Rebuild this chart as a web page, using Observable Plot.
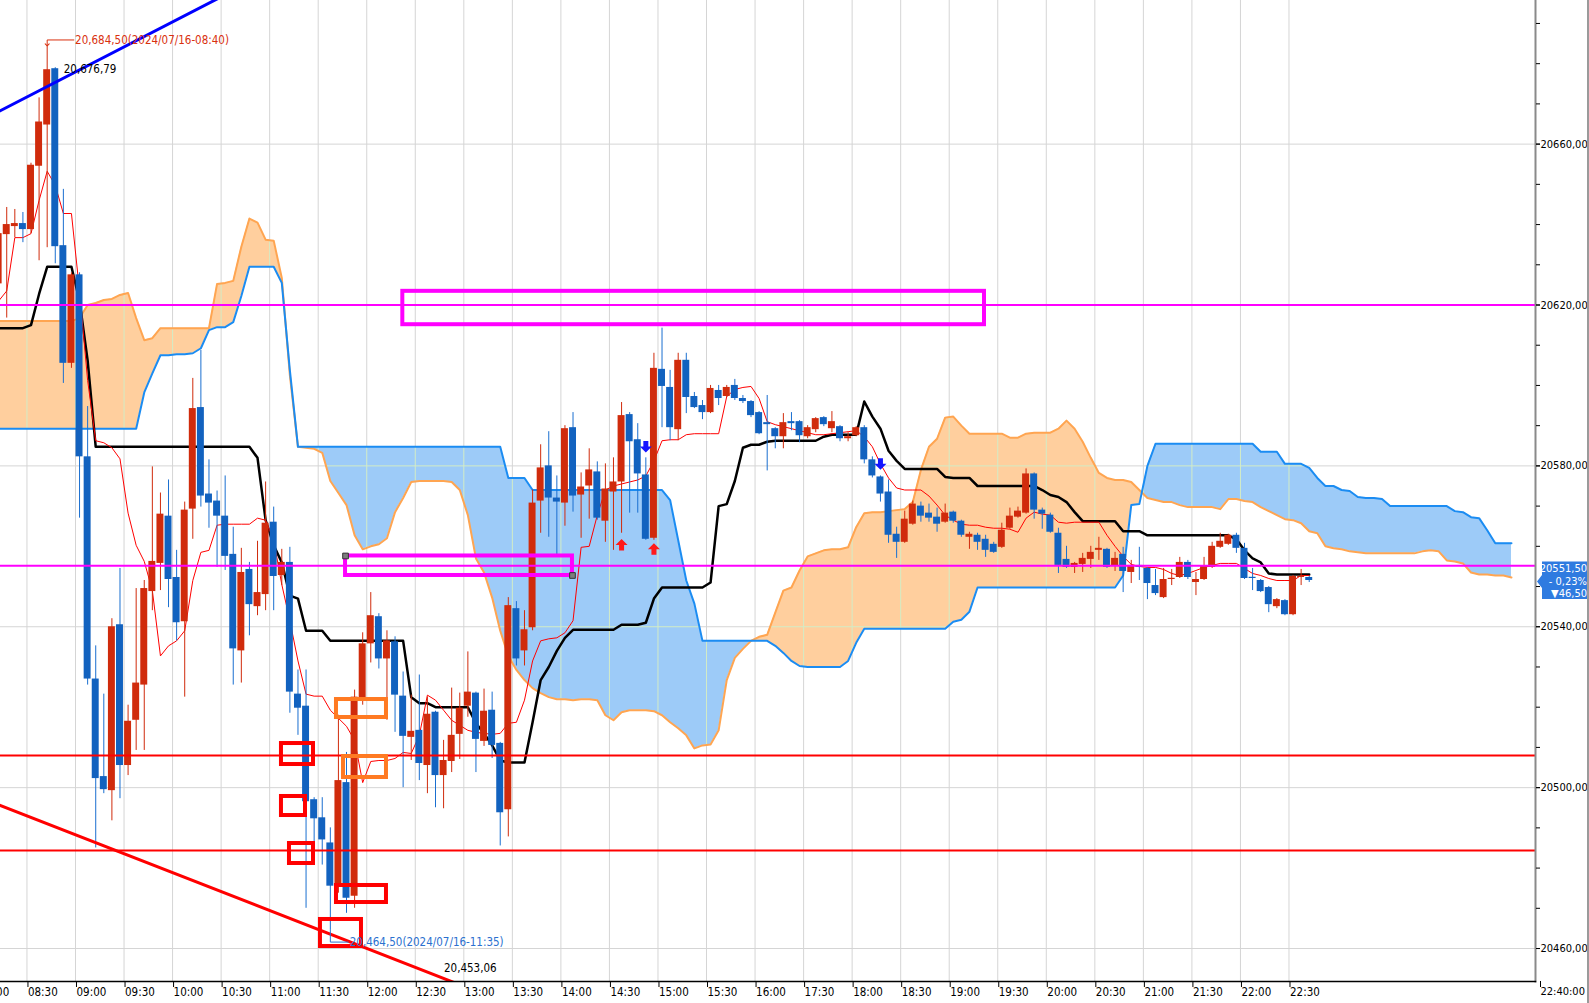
<!DOCTYPE html>
<html><head><meta charset="utf-8">
<script src="https://cdn.jsdelivr.net/npm/d3@7"></script>
<script src="https://cdn.jsdelivr.net/npm/@observablehq/plot@0.6"></script>
<style>html,body{margin:0;padding:0;background:#fff;overflow:hidden}#chart{position:relative;width:1589px;height:1003px}</style>
</head><body><div id="chart"></div>
<script>
// ---------- DATA (5-minute bars; bar index 0 = 08:30, first bar = -4) ----------
const firstBar = -4;
const opens = [
20625.25,20637.5,20639.5,20640.25, // -4..-1
20638.75,20654.5,20664.75,20678.75,20634.75,20605.5,20627.5,20582.25,20527.0,20502.75, // 0-9
20499.25,20540.5,20505.5,20516.75,20525.5,20548.75,20555.75,20567.5,20552.25,20541.25, // 10-19
20569.25,20594.5,20573.0,20571.25,20567.5,20558.0,20534.0,20554.25,20545.0,20548.0, // 20-29
20566.0,20552.75,20556.0,20523.25,20520.25,20497.0,20492.5,20486.25,20475.5,20501.25, // 30-39
20473.0,20522.25,20535.75,20542.5,20532.0,20536.25,20522.75,20512.5,20514.25,20505.5, // 40-49
20518.75,20503.0,20506.5,20513.25,20520.25,20523.5,20511.5,20519.25,20511.0,20494.5, // 50-59
20544.5,20534.0,20539.75,20571.25,20580.0,20572.0,20570.75,20589.5,20572.75,20575.0, // 60-69
20578.5,20566.25,20573.5,20576.0,20592.75,20586.5,20577.75,20562.0,20604.0,20599.5, // 70-79
20589.0,20606.25,20597.25,20595.0,20593.25,20598.75,20597.25,20600.0,20596.75,20596.0, // 80-89
20593.25,20590.75,20589.25,20587.25,20591.0,20591.0,20587.25,20589.0,20592.0,20589.25, // 90-99
20589.75,20586.75,20587.5,20589.5,20581.5,20577.25,20573.5,20563.0,20561.0,20565.5, // 100-109
20570.0,20568.25,20567.25,20566.0,20568.5,20566.25,20562.25,20562.75,20561.75,20560.5, // 110-119
20559.75,20564.5,20567.25,20568.25,20578.0,20569.0,20567.75,20563.25,20556.75,20554.75, // 120-129
20555.5,20556.75,20559.0,20559.25,20555.0,20558.0,20553.5,20555.25,20554.5,20550.25, // 130-139
20547.25,20551.75,20552.25,20556.0,20551.0,20551.75,20554.75,20559.75,20560.5,20562.75, // 140-149
20559.5,20552.0,20551.5,20549.75,20545.0,20546.5,20543.0,20552.25,20552.25 // 150-158
];
const highs = [
20639.75,20644.25,20643.75,20643.0,
20655.25,20671.5,20684.5,20679.0,20648.75,20628.0,20628.0,20594.75,20535.25,20523.25,
20542.0,20554.5,20520.5,20549.5,20551.5,20579.75,20573.25,20576.5,20559.0,20571.0,
20601.75,20608.75,20581.5,20573.75,20577.5,20564.75,20559.5,20556.0,20561.25,20576.0,
20569.75,20559.25,20559.75,20529.25,20529.25,20497.5,20497.5,20490.0,20518.0,20508.75,
20524.25,20538.5,20548.5,20543.25,20539.0,20537.5,20528.75,20523.0,20528.0,20522.5,
20519.0,20511.75,20524.75,20523.5,20533.75,20523.75,20524.5,20523.75,20511.25,20547.25,
20546.25,20544.0,20574.0,20585.25,20588.5,20577.5,20590.0,20593.25,20578.25,20584.25,
20581.0,20580.5,20582.0,20595.75,20593.25,20590.5,20582.0,20608.0,20614.25,20603.75,
20608.0,20608.0,20598.25,20596.25,20600.0,20600.0,20600.0,20601.5,20597.5,20596.25,
20593.5,20597.5,20589.5,20593.0,20593.25,20591.25,20590.0,20592.0,20592.25,20593.5,
20590.0,20588.25,20589.75,20590.0,20582.25,20577.5,20576.5,20564.75,20568.75,20571.25,
20571.0,20570.5,20569.5,20570.5,20568.75,20566.5,20563.5,20563.25,20562.75,20561.0,
20565.75,20569.5,20569.75,20579.25,20578.25,20569.5,20568.25,20564.5,20560.0,20556.0,
20558.25,20560.0,20562.25,20559.5,20558.5,20559.75,20556.5,20559.75,20554.75,20554.25,
20554.5,20554.25,20557.25,20556.5,20553.5,20557.25,20561.0,20563.25,20563.0,20563.25,
20560.75,20554.5,20551.75,20550.0,20547.0,20546.75,20552.75,20554.25,20552.5
];
const lows = [
20621.0,20616.75,20636.75,20635.5,
20637.75,20631.0,20634.25,20630.25,20600.5,20604.25,20567.0,20525.5,20485.0,20498.5,
20491.75,20497.25,20503.0,20509.25,20509.25,20544.0,20549.0,20544.75,20536.5,20522.5,
20561.75,20569.75,20564.5,20554.75,20554.0,20525.5,20526.0,20537.75,20542.75,20544.0,
20544.0,20550.25,20518.5,20513.0,20470.0,20480.75,20480.75,20464.5,20473.75,20468.75,
20470.0,20520.5,20531.0,20529.5,20516.75,20513.75,20500.0,20506.75,20501.75,20498.5,
20495.0,20494.75,20503.75,20507.0,20517.5,20503.75,20510.25,20507.25,20485.5,20487.75,
20530.25,20530.25,20539.0,20563.25,20562.25,20557.75,20565.0,20568.5,20562.0,20566.75,
20566.5,20561.0,20559.0,20563.25,20568.25,20568.25,20561.5,20561.5,20589.5,20586.25,
20586.25,20593.0,20594.25,20591.5,20593.0,20595.0,20597.0,20596.25,20595.5,20592.0,
20587.75,20578.75,20584.25,20584.25,20588.75,20585.75,20586.75,20588.25,20589.75,20588.25,
20586.0,20586.0,20587.25,20580.5,20577.0,20571.0,20560.75,20557.0,20560.75,20565.25,
20566.0,20566.0,20563.5,20565.75,20565.75,20562.25,20559.25,20559.0,20557.25,20558.25,
20559.5,20564.25,20567.0,20568.0,20566.75,20564.25,20563.25,20553.25,20554.5,20553.25,
20553.5,20554.5,20556.5,20554.5,20553.75,20548.5,20550.75,20551.5,20546.75,20547.75,
20547.0,20550.25,20552.0,20551.75,20547.75,20551.5,20554.5,20559.5,20560.25,20558.25,
20551.75,20549.0,20548.5,20543.5,20544.5,20542.75,20542.75,20550.25,20551.0
];
const closes = [
20637.75,20640.0,20640.25,20638.75,
20654.75,20665.5,20678.5,20634.5,20605.5,20627.5,20582.25,20527.0,20502.25,20499.5,
20540.0,20505.5,20516.5,20526.0,20549.5,20556.25,20568.0,20551.75,20541.0,20569.0,
20594.25,20572.5,20570.75,20567.5,20557.5,20534.5,20553.5,20545.5,20548.5,20565.75,
20552.5,20556.0,20523.75,20519.75,20496.5,20492.25,20487.0,20475.5,20501.75,20472.5,
20522.5,20535.75,20542.75,20532.0,20536.5,20523.0,20512.75,20514.0,20506.0,20518.25,
20503.0,20506.75,20513.0,20519.75,20523.75,20512.0,20519.0,20510.5,20493.75,20545.25,
20532.0,20539.25,20570.75,20579.5,20572.0,20571.0,20589.25,20572.5,20574.75,20579.0,
20567.0,20574.25,20576.0,20592.5,20586.0,20578.0,20561.75,20604.25,20599.75,20589.5,
20606.25,20597.0,20594.5,20593.25,20599.25,20596.75,20599.5,20596.75,20596.0,20592.5,
20588.0,20590.25,20587.25,20590.75,20590.5,20587.5,20589.5,20591.75,20590.25,20591.0,
20586.75,20587.25,20589.5,20581.5,20577.5,20573.0,20562.75,20561.0,20566.75,20570.5,
20567.5,20567.0,20565.5,20568.25,20566.25,20562.75,20563.0,20561.0,20559.0,20558.5,
20564.0,20567.5,20568.75,20578.0,20569.0,20568.0,20563.5,20555.25,20554.75,20555.75,
20557.0,20558.5,20559.5,20554.75,20557.0,20553.75,20555.25,20554.75,20550.75,20548.25,
20551.75,20552.0,20556.0,20552.25,20551.75,20555.0,20560.0,20561.25,20562.75,20559.5,
20552.0,20551.75,20548.75,20545.5,20546.75,20543.0,20552.5,20552.5,20551.5
];
// Conversion line (red) and base line (black), bars -4..158
const tenkan = [
20621.0,20623.5,20636.75,20636.75,
20637.75,20646.0,20653.25,20649.75,20642.75,20642.75,20623.5,20601.25,20586.25,20585.75,
20584.5,20581.75,20568.25,20560.25,20556.25,20549.0,20532.75,20535.25,20536.5,20539.0,
20551.5,20558.5,20559.0,20565.25,20565.5,20565.5,20565.5,20565.5,20567.0,20566.5,
20561.5,20550.5,20541.5,20531.5,20523.25,20522.75,20522.75,20519.25,20517.25,20515.25,
20511.75,20501.25,20506.5,20506.75,20506.75,20507.25,20508.75,20508.5,20513.0,20523.0,
20521.75,20519.25,20516.75,20515.5,20514.25,20513.75,20513.5,20513.25,20513.5,20516.0,
20516.25,20521.75,20531.5,20536.5,20537.0,20537.25,20538.5,20541.5,20559.75,20560.0,
20567.75,20574.0,20575.0,20575.5,20576.0,20576.5,20577.5,20581.25,20586.25,20586.5,
20586.5,20587.75,20588.0,20588.0,20588.0,20588.0,20597.25,20599.0,20599.5,20599.75,
20596.75,20591.0,20590.25,20589.75,20589.25,20588.75,20588.25,20587.75,20587.75,20588.0,
20588.25,20588.5,20588.75,20587.25,20584.75,20580.5,20577.0,20574.5,20574.0,20574.0,
20574.0,20572.5,20570.25,20567.75,20566.5,20565.5,20565.25,20565.25,20564.75,20564.5,
20564.5,20564.25,20563.5,20567.0,20568.5,20568.0,20567.75,20566.0,20565.75,20566.0,
20566.0,20566.0,20566.0,20562.75,20560.0,20557.5,20555.5,20555.0,20554.75,20554.75,
20554.25,20553.25,20552.75,20553.25,20554.0,20554.75,20555.25,20555.75,20555.75,20555.75,
20554.5,20553.25,20552.75,20552.0,20551.5,20551.5,20551.5,20552.75,20552.75
];
const kijun = [
20614.25,20614.25,20614.25,20614.25,
20615.0,20622.75,20629.5,20629.5,20629.5,20629.5,20621.0,20606.25,20584.75,20584.75,
20584.75,20584.75,20584.75,20584.75,20584.75,20584.75,20584.75,20584.75,20584.75,20584.75,
20584.75,20584.75,20584.75,20584.75,20584.75,20584.75,20584.75,20584.75,20582.0,20566.5,
20560.25,20556.0,20547.75,20547.0,20539.0,20539.0,20539.0,20536.5,20536.5,20536.5,
20536.5,20536.5,20536.5,20536.5,20536.5,20536.5,20536.5,20522.5,20521.0,20521.0,
20520.0,20520.0,20520.0,20520.0,20520.0,20516.0,20513.5,20510.5,20506.75,20506.25,
20506.25,20506.25,20516.25,20526.75,20530.0,20534.0,20537.25,20539.25,20539.25,20539.25,
20539.25,20539.25,20539.25,20540.5,20540.5,20540.5,20541.0,20547.0,20549.75,20549.75,
20549.75,20549.75,20549.75,20549.75,20551.0,20570.0,20570.5,20576.25,20584.5,20585.25,
20585.25,20586.0,20586.25,20586.25,20586.25,20586.25,20586.25,20586.25,20587.25,20587.75,
20587.75,20587.75,20587.75,20596.0,20592.25,20589.25,20583.75,20581.25,20579.25,20579.25,
20579.25,20579.25,20579.25,20577.25,20577.0,20577.0,20577.0,20575.0,20575.0,20575.0,
20575.0,20575.0,20575.0,20575.0,20575.0,20574.0,20572.75,20572.25,20571.0,20568.5,
20566.25,20566.25,20566.25,20566.25,20566.25,20563.75,20563.75,20563.75,20562.75,20562.75,
20562.75,20562.75,20562.75,20562.75,20562.75,20562.75,20562.75,20562.75,20562.75,20561.75,
20559.0,20557.0,20556.0,20553.25,20553.0,20553.0,20553.0,20553.0,20553.0
];
// Leading spans (cloud), bars -4..183
const spanA = [
20616.0,20616.0,20616.0,20616.0,
20616.0,20616.0,20616.0,20616.0,20616.0,20616.0,20616.75,20620.0,20620.5,20621.25,
20621.5,20622.5,20623.0,20616.75,20611.25,20611.75,20614.25,20614.25,20614.25,20614.25,
20614.25,20614.25,20614.25,20625.25,20625.5,20626.0,20634.5,20641.5,20640.5,20636.25,
20636.0,20626.75,20602.5,20584.75,20584.5,20584.25,20583.25,20576.25,20573.25,20570.25,
20562.75,20559.25,20560.0,20560.5,20562.0,20568.5,20572.0,20576.0,20576.25,20576.25,
20576.25,20576.25,20576.0,20574.0,20567.75,20557.0,20553.5,20547.25,20539.0,20532.75,
20529.25,20526.75,20524.75,20523.5,20522.5,20522.0,20522.0,20521.75,20522.0,20522.0,
20521.75,20518.0,20516.75,20518.75,20519.25,20519.25,20519.25,20519.0,20518.0,20516.25,
20514.75,20513.0,20509.75,20510.5,20510.75,20514.25,20526.75,20532.25,20534.5,20536.5,
20537.5,20538.0,20543.5,20549.0,20549.75,20554.0,20557.5,20558.25,20559.0,20559.25,
20559.25,20559.75,20564.75,20568.25,20568.5,20568.5,20568.75,20569.0,20569.25,20571.0,
20579.0,20584.75,20586.75,20592.0,20592.25,20590.0,20588.0,20588.0,20588.0,20588.0,
20588.0,20587.0,20587.0,20588.0,20588.25,20588.25,20588.25,20589.25,20591.25,20589.25,
20586.0,20582.0,20578.25,20577.0,20576.5,20576.5,20576.0,20574.0,20572.0,20571.5,
20571.0,20571.0,20570.25,20569.75,20569.75,20569.75,20569.75,20569.25,20571.75,20571.75,
20571.25,20571.0,20569.75,20568.75,20567.75,20566.75,20566.5,20565.75,20563.75,20563.25,
20560.0,20559.5,20559.25,20558.75,20558.5,20558.25,20558.25,20558.25,20558.25,20558.25,
20558.25,20558.25,20558.75,20559.0,20558.75,20556.5,20556.25,20555.75,20553.5,20553.0,
20553.0,20552.75,20552.75,20552.25
];
const spanB = [
20589.25,20589.25,20589.25,20589.25,
20589.25,20589.25,20589.25,20589.25,20589.25,20589.25,20589.25,20589.25,20589.25,20589.25,
20589.25,20589.25,20589.25,20589.25,20598.25,20603.0,20607.5,20607.5,20607.75,20607.75,
20608.0,20609.25,20613.75,20614.5,20614.5,20615.75,20622.25,20629.5,20629.5,20629.5,
20629.5,20625.5,20603.75,20584.75,20584.75,20584.75,20584.75,20584.75,20584.75,20584.75,
20584.75,20584.75,20584.75,20584.75,20584.75,20584.75,20584.75,20584.75,20584.75,20584.75,
20584.75,20584.75,20584.75,20584.75,20584.75,20584.75,20584.75,20584.75,20584.75,20577.0,
20577.0,20577.0,20574.0,20574.0,20574.0,20574.0,20574.0,20574.0,20574.0,20574.0,
20574.0,20574.0,20574.0,20574.0,20574.0,20574.0,20574.0,20574.0,20574.0,20571.5,
20561.5,20551.5,20545.75,20536.5,20536.5,20536.5,20536.5,20536.5,20536.5,20536.5,
20536.5,20536.5,20535.25,20533.5,20531.5,20530.25,20530.0,20530.0,20530.0,20530.0,
20530.0,20531.5,20536.0,20539.5,20539.5,20539.5,20539.5,20539.5,20539.5,20539.5,
20539.5,20539.5,20539.5,20539.5,20541.25,20541.75,20543.75,20549.75,20549.75,20549.75,
20549.75,20549.75,20549.75,20549.75,20549.75,20549.75,20549.75,20549.75,20549.75,20549.75,
20549.75,20549.75,20549.75,20549.75,20549.75,20552.75,20570.25,20570.5,20580.0,20585.5,
20585.5,20585.5,20585.5,20585.5,20585.5,20585.5,20585.5,20585.5,20585.5,20585.5,
20585.5,20585.5,20583.5,20583.5,20583.5,20580.5,20580.5,20580.5,20579.5,20577.0,
20575.0,20575.0,20574.0,20573.75,20572.25,20572.0,20572.0,20571.75,20570.0,20570.0,
20570.0,20570.0,20570.0,20570.0,20570.0,20570.0,20568.75,20568.5,20567.25,20567.0,
20564.0,20560.75,20560.75,20560.75
];
// Axis ticks
const timeTickBars = [-6.5,-0.5,5.5,11.5,17.5,23.5,29.5,35.5,41.5,47.5,53.5,59.5,65.5,71.5,77.5,83.5,89.5,95.5,101.5,107.5,113.5,119.5,125.5,131.5,137.5,143.5,149.5,155.5];
const timeLabels = ["08:00","08:30","09:00","09:30","10:00","10:30","11:00","11:30","12:00","12:30","13:00","13:30","14:00","14:30","15:00","15:30","16:00","17:30","18:00","18:30","19:00","19:30","20:00","20:30","21:00","21:30","22:00","22:30"];
const endTickBar = [185.97];
const endTickLabel = "22:40:00";
const priceTicks = [20460,20500,20540,20580,20620,20660];
const priceMinorTicks = [20460,20470,20480,20490,20500,20510,20520,20530,20540,20550,20560,20570,20580,20590,20600,20610,20620,20630,20640,20650,20660,20670,20680,20690];
// Drawn levels
const magentaLevels = [20620.0, 20555.2];
const redLevels = [20508.0, 20484.4];
const blueTrendBars = [-4, 26], blueTrendPrices = [20668.1, 20699.2];
const redTrendBars = [-4, 60], redTrendPrices = [20495.75, 20445.5];
// Boxes
const boxX1 = [45.96, 38.88, 30.96, 30.96, 31.95, 37.76, 35.78, 37.76, 38.63];
const boxX2 = [117.86, 66.93, 34.92, 33.93, 34.92, 43.94, 40.85, 43.94, 43.94];
const boxLo = [20615.1, 20552.75, 20505.75, 20493.07, 20481.14, 20471.44, 20460.5, 20517.44, 20502.52];
const boxHi = [20623.4, 20557.6, 20510.97, 20497.8, 20486.11, 20475.67, 20467.22, 20521.91, 20507.74];
const boxKind = ["magenta","magenta","red","red","red","red","red","orange","orange"];
const handleBars = [38.88, 66.93], handlePrices = [20557.6, 20552.75];
// Signal arrows
const upArrowBars = [73, 77], upArrowPrices = [20560.3, 20559.3];
const downArrowBars = [76, 105], downArrowPrices = [20584.8, 20580.5];
// Notes
const noteTexts = ["20,684,50(2024/07/16-08:40)", "20,676,79", "20,464,50(2024/07/16-11:35)", "20,453,06"];
const noteBars = [5.45, 4.05, 39.4, 51.05];
const notePrices = [20685.9, 20678.5, 20461.6, 20455.0];
const noteColors = ["#d9300e", "#000000", "#2b70cf", "#000000"];
const hiLeaderBars = [5.3, 2, 2], hiLeaderPrices = [20685.9, 20685.9, 20684.7];
const loLeaderBars = [37, 37, 39.2], loLeaderPrices = [20464.5, 20461.6, 20461.6];
// Last price tag
const lastPrice = 20551.50, lastPct = "- 0,23%", lastChange = "▼46,50";

// ---------- BUILD ----------
const FONT = "'DejaVu Sans Condensed','Liberation Sans Narrow','Liberation Sans',sans-serif";
const RED = "#d02b0c", BLUE = "#1262bf", BLUE_WICK = "#1a6fd0";
const candles = opens.map((o, k) => ({i: firstBar + k, o, h: highs[k], l: lows[k], c: closes[k]}));
const ind = tenkan.map((t, k) => ({i: firstBar + k, t, kj: kijun[k]}));
const cloud = spanA.map((a, k) => ({i: firstBar + k, a, b: spanB[k]}));
const cloudPts = [];
for (let k = 0; k < cloud.length; k++) {
  const p = cloud[k]; cloudPts.push(p);
  const q = cloud[k + 1];
  if (q) {
    const d0 = p.a - p.b, d1 = q.a - q.b;
    if (d0 * d1 < 0) {
      const t = d0 / (d0 - d1);
      const a = p.a + t * (q.a - p.a);
      cloudPts.push({i: p.i + t * (q.i - p.i), a, b: a});
    }
  }
}
const boxes = boxX1.map((x1, k) => ({x1, x2: boxX2[k], lo: boxLo[k], hi: boxHi[k], kind: boxKind[k]}));
const boxColor = {magenta: "#ff00ff", red: "#ff0000", orange: "#ff7a22"};
const toPts = (xs, ys) => xs.map((x, k) => ({x, y: ys[k]}));
const labelMap = new Map(timeTickBars.map((b, k) => [b, timeLabels[k]]));
const fmtPrice = d => d.toFixed(2).replace(".", ",");
const arrowUp = {draw(ctx) { ctx.moveTo(0, -6); ctx.lineTo(6, 0); ctx.lineTo(2.5, 0); ctx.lineTo(2.5, 5.5); ctx.lineTo(-2.5, 5.5); ctx.lineTo(-2.5, 0); ctx.lineTo(-6, 0); ctx.closePath(); }};
const arrowDown = {draw(ctx) { ctx.moveTo(0, 6); ctx.lineTo(6, 0); ctx.lineTo(2.5, 0); ctx.lineTo(2.5, -5.5); ctx.lineTo(-2.5, -5.5); ctx.lineTo(-2.5, 0); ctx.lineTo(-6, 0); ctx.closePath(); }};
const GRID = "#d5d5d5";

const chart = Plot.plot({
  width: 1589, height: 1003,
  marginLeft: 0, marginRight: 54, marginTop: 0, marginBottom: 22,
  x: {domain: [-3.77, 185.97], axis: null},
  y: {domain: [20451.8, 20695.71], axis: null},
  color: {type: "identity"},
  style: {fontFamily: FONT, fontSize: "11.5px", background: "#fff", color: "#000", overflow: "hidden"},
  marks: [
    Plot.gridY(priceTicks, {stroke: GRID, strokeOpacity: 1}),
    Plot.gridX(timeTickBars, {stroke: GRID, strokeOpacity: 1}),
    Plot.areaY(cloudPts, {x: "i", y1: "b", y2: d => Math.max(d.a, d.b), fill: "#ffcf9e", className: "cloudfill"}),
    Plot.areaY(cloudPts, {x: "i", y1: "a", y2: d => Math.max(d.a, d.b), fill: "#9dcbf8", className: "cloudfill"}),
    Plot.gridY(priceTicks, {stroke: "#d3ecc6", strokeOpacity: 1, className: "cloudgrid"}),
    Plot.gridX(timeTickBars, {stroke: "#d3ecc6", strokeOpacity: 1, className: "cloudgrid"}),
    Plot.line(cloud, {x: "i", y: "a", stroke: "#ffa551", strokeWidth: 2}),
    Plot.line(cloud, {x: "i", y: "b", stroke: "#1b8cf2", strokeWidth: 2}),
    Plot.line(ind, {x: "i", y: "kj", stroke: "#000", strokeWidth: 2.5, clip: true}),
    Plot.line(ind, {x: "i", y: "t", stroke: "#ff0000", strokeWidth: 1, clip: true}),
    Plot.ruleX(candles, {x: "i", y1: "l", y2: "h", stroke: d => d.c >= d.o ? RED : BLUE_WICK, strokeWidth: 1, clip: true}),
    Plot.rect(candles, {x1: d => d.i - 0.43, x2: d => d.i + 0.43, y1: "o",
      y2: d => Math.abs(d.c - d.o) < 0.3 ? d.o + 0.3 : d.c, fill: d => d.c >= d.o ? RED : BLUE, clip: true}),
    Plot.ruleY(magentaLevels, {stroke: "#ff00ff", strokeWidth: 2}),
    Plot.ruleY(redLevels, {stroke: "#ff0000", strokeWidth: 2}),
    Plot.line(toPts(blueTrendBars, blueTrendPrices), {x: "x", y: "y", stroke: "#0000ff", strokeWidth: 3, clip: true}),
    Plot.line(toPts(redTrendBars, redTrendPrices), {x: "x", y: "y", stroke: "#ff0000", strokeWidth: 3, clip: true}),
    Plot.rect(boxes, {x1: "x1", x2: "x2", y1: "lo", y2: "hi", fill: "none", stroke: d => boxColor[d.kind], strokeWidth: 4}),
    Plot.dot(toPts(handleBars, handlePrices), {x: "x", y: "y", symbol: "square", r: 3.2, fill: "#7d7d7d", stroke: "#333", strokeWidth: 1}),
    Plot.dot(toPts(upArrowBars, upArrowPrices), {x: "x", y: "y", symbol: arrowUp, fill: "#ff1a1a", stroke: "none"}),
    Plot.dot(toPts(downArrowBars, downArrowPrices), {x: "x", y: "y", symbol: arrowDown, fill: "#1414ff", stroke: "none"}),
    Plot.line(toPts(hiLeaderBars, hiLeaderPrices), {x: "x", y: "y", stroke: "#d9300e", strokeWidth: 1, markerEnd: "arrow"}),
    Plot.line(toPts(loLeaderBars, loLeaderPrices), {x: "x", y: "y", stroke: "#2b70cf", strokeWidth: 1}),
    Plot.text(noteTexts.map((t, k) => ({t, x: noteBars[k], y: notePrices[k], c: noteColors[k]})),
      {x: "x", y: "y", text: "t", fill: "c", textAnchor: "start", fontSize: 11.5}),
    Plot.frame({anchor: "right", stroke: "#8a8a8a", strokeWidth: 2}),
    Plot.frame({anchor: "bottom", stroke: "#000", strokeWidth: 1.5}),
    Plot.axisY({anchor: "right", ticks: priceMinorTicks, tickSize: 4, tickFormat: () => "", stroke: "#000"}),
    Plot.axisY({anchor: "right", ticks: priceTicks, tickSize: 4, tickPadding: 1, tickFormat: fmtPrice, fontSize: 11, fill: "#000"}),
    Plot.axisX({anchor: "bottom", ticks: timeTickBars, tickSize: 6, tickPadding: 0, tickFormat: d => labelMap.get(d), textAnchor: "start", dx: 1, fontSize: 11.5, fill: "#000"}),
    Plot.axisX({anchor: "bottom", ticks: endTickBar, tickSize: 6, tickPadding: 0, tickFormat: () => endTickLabel, textAnchor: "start", dx: 5, fontSize: 11, fill: "#000"})
  ]
});
document.getElementById("chart").appendChild(chart);

// clip the pale in-cloud grid to the cloud shapes
const svg = d3.select(chart);
const defs = svg.insert("defs", ":first-child");
const cp = defs.append("clipPath").attr("id", "cloudclip");
svg.selectAll("g.cloudfill path").each(function () { cp.append("path").attr("d", this.getAttribute("d")); });
svg.selectAll("g.cloudgrid").attr("clip-path", "url(#cloudclip)");

// last-price tag on the right axis, placed with the y scale
const ys = chart.scale("y");
const py = ys.apply(lastPrice);
const tag = svg.append("g");
tag.append("path")
  .attr("d", `M1542,${py - 18.5}H1589V${py + 19}H1542V${py + 8}L1537,${py + 1.5}L1542,${py - 5}Z`)
  .attr("fill", "#2f7be0");
[[d3.format(".2f")(lastPrice).replace(".", ","), -11.5], [lastPct, 1], [lastChange, 13]].forEach(([t, dy]) => {
  tag.append("text").attr("x", 1587).attr("y", py + dy).attr("dy", "0.35em")
    .attr("text-anchor", "end").attr("fill", "#fff").attr("font-size", 11).attr("font-family", FONT).text(t);
});
svg.append("line").attr("x1", 1588).attr("x2", 1588).attr("y1", 0).attr("y2", 1003).attr("stroke", "#9a9a9a").attr("stroke-width", 2);
</script>
</body></html>
